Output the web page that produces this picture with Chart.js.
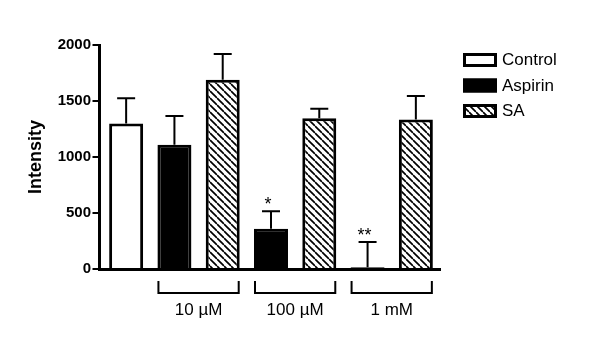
<!DOCTYPE html>
<html>
<head>
<meta charset="utf-8">
<script src="https://cdn.jsdelivr.net/npm/chart.js@4.4.0/dist/chart.umd.min.js"></script>
<style>
  html, body { margin: 0; padding: 0; background: #fff; }
  #wrap { width: 600px; height: 352px; }
</style>
</head>
<body>
<div id="wrap"><canvas id="chart" width="600" height="352"></canvas></div>
<script>
// data
const categories = ["Control", "Aspirin 10 µM", "SA 10 µM", "Aspirin 100 µM", "SA 100 µM", "Aspirin 1 mM", "SA 1 mM"]
const controlValues = [1300, null, null, null, null, null, null]
const aspirinValues = [null, 1110, null, 360, null, 15, null]
const saValues = [null, null, 1690, null, 1345, null, 1335]
const errorUp = [225, 255, 230, 155, 85, 225, 210]
const stars = ["", "", "", "*", "", "**", ""]
const groups = [
    {label: "10 µM", from: 1, to: 2},
    {label: "100 µM", from: 3, to: 4},
    {label: "1 mM", from: 5, to: 6}
]
const yTicks = [0, 500, 1000, 1500, 2000]

const FONT = "'Liberation Sans', Arial, sans-serif"

// hatch pattern for SA bars
const makeHatch = () => {
    const s = 7
    const c = document.createElement("canvas")
    c.width = s; c.height = s
    const g = c.getContext("2d")
    g.fillStyle = "#fff"
    g.fillRect(0, 0, s, s)
    g.strokeStyle = "#000"
    g.lineWidth = 1.7
    for (let k = -1; k <= 1; k++) {
        g.beginPath()
        g.moveTo(0, k * s)
        g.lineTo(s, s + k * s)
        g.stroke()
    }
    return g.createPattern(c, "repeat")
}
const hatch = makeHatch()

const overlay = {
    id: "overlay",
    afterDatasetsDraw(chart) {
        const ctx = chart.ctx
        const x = chart.scales.x, y = chart.scales.y
        const area = chart.chartArea
        ctx.save()
        ctx.strokeStyle = "#000"
        ctx.fillStyle = "#000"

        // error bars (upper only) and significance marks
        categories.forEach((c, i) => {
            const val = [controlValues[i], aspirinValues[i], saValues[i]].find(v => v != null)
            const cx = x.getPixelForValue(i)
            const top = y.getPixelForValue(val)
            const ey = y.getPixelForValue(val + errorUp[i])
            ctx.lineWidth = 2
            ctx.beginPath()
            ctx.moveTo(cx, top)
            ctx.lineTo(cx, ey)
            ctx.moveTo(cx - 9, ey)
            ctx.lineTo(cx + 9, ey)
            ctx.stroke()
            if (stars[i]) {
                ctx.font = "18px " + FONT
                ctx.textAlign = "center"
                ctx.textBaseline = "alphabetic"
                ctx.fillText(stars[i], cx - 3, ey - 1)
            }
        })

        // axes
        const axisX = area.left - 2.5
        ctx.lineWidth = 3
        ctx.beginPath()
        ctx.moveTo(axisX, y.getPixelForValue(2000) - 1)
        ctx.lineTo(axisX, area.bottom + 1.5)
        ctx.moveTo(axisX - 1.5, area.bottom + 0.5)
        ctx.lineTo(area.right + 1, area.bottom + 0.5)
        ctx.stroke()
        ctx.lineWidth = 2
        yTicks.forEach(t => {
            const ty = y.getPixelForValue(t)
            ctx.beginPath()
            ctx.moveTo(axisX - 7, ty)
            ctx.lineTo(axisX, ty)
            ctx.stroke()
        })

        // group brackets under the axis
        const barW = chart.getDatasetMeta(1).data[1].width
        groups.forEach(g => {
            const l = x.getPixelForValue(g.from) - barW / 2 + 1
            const r = x.getPixelForValue(g.to) + barW / 2 - 1
            ctx.lineWidth = 2
            ctx.beginPath()
            ctx.moveTo(l, 281)
            ctx.lineTo(l, 293)
            ctx.lineTo(r, 293)
            ctx.lineTo(r, 281)
            ctx.stroke()
            ctx.font = "17px " + FONT
            ctx.textAlign = "center"
            ctx.textBaseline = "alphabetic"
            ctx.fillText(g.label, (l + r) / 2, 315)
        })

        // legend
        chart.data.datasets.forEach((ds, i) => {
            const by = 53 + i * 25.5
            ctx.fillStyle = ds.backgroundColor
            ctx.fillRect(463, by, 34, 14)
            ctx.lineWidth = 3
            ctx.strokeStyle = "#000"
            ctx.strokeRect(464.5, by + 1.5, 31, 11)
            ctx.fillStyle = "#000"
            ctx.font = "17px " + FONT
            ctx.textAlign = "left"
            ctx.textBaseline = "middle"
            ctx.fillText(ds.label, 502, by + 7.5)
        })

        // y title
        ctx.translate(36, 157)
        ctx.rotate(-Math.PI / 2)
        ctx.font = "bold 18px " + FONT
        ctx.textAlign = "center"
        ctx.textBaseline = "middle"
        ctx.fillText("Intensity", 0, 0)
        ctx.restore()
    }
}

new Chart(document.getElementById("chart"), {
    type: "bar",
    data: {
        labels: categories,
        datasets: [
            {label: "Control", data: controlValues, backgroundColor: "#fff"},
            {label: "Aspirin", data: aspirinValues, backgroundColor: "#000"},
            {label: "SA", data: saValues, backgroundColor: hatch}
        ].map(d => Object.assign(d, {borderColor: "#000", borderWidth: 3, barPercentage: 0.704, categoryPercentage: 1}))
    },
    options: {
        responsive: false,
        animation: false,
        devicePixelRatio: 1,
        layout: {padding: {top: 45, right: 160, left: 0, bottom: 0}},
        plugins: {legend: {display: false}, tooltip: {enabled: false}},
        scales: {
            x: {
                stacked: true,
                grid: {display: false},
                border: {display: false},
                ticks: {display: false},
                afterFit: s => { s.height = 83 }
            },
            y: {
                stacked: true,
                min: 0,
                max: 2000,
                afterBuildTicks: s => { s.ticks = yTicks.map(v => ({value: v})) },
                grid: {display: false, drawTicks: false},
                border: {display: false},
                ticks: {color: "#000", padding: 11, callback: v => String(v), font: {family: FONT, size: 15, weight: "bold"}},
                afterFit: s => { s.width = 102 }
            }
        }
    },
    plugins: [overlay]
})
</script>
</body>
</html>
